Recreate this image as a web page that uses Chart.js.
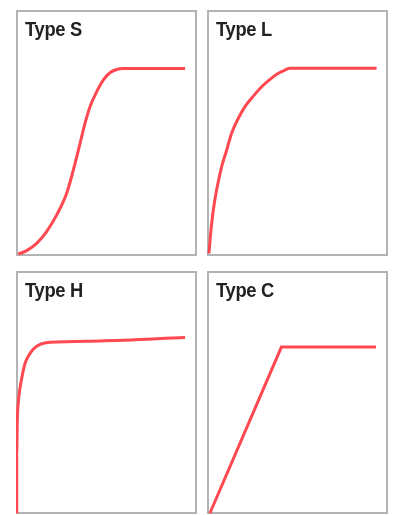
<!DOCTYPE html>
<html>
<head>
<meta charset="utf-8">
<script src="https://cdn.jsdelivr.net/npm/chart.js@4.4.0/dist/chart.umd.min.js"></script>
<style>
    html, body { margin: 0; padding: 0; background: #fff; }
    body { width: 395px; height: 515px; position: relative; overflow: hidden; }
    .cell { position: absolute; }
    .frame { position: absolute; inset: 0; border: 2px solid #b3b3b3; box-sizing: border-box; }
    .plot { position: absolute; inset: 0; }
    .label {
        position: absolute; left: 9px; top: 8px;
        font: bold 21px/21px "Liberation Sans Narrow", "Liberation Sans", sans-serif;
        color: #222; letter-spacing: -0.4px;
        transform: scaleX(0.875); transform-origin: left top;
        white-space: nowrap;
    }
</style>
</head>
<body>

<div class="cell" style="left:16px;top:10px;width:181px;height:246px">
    <div class="frame"></div>
    <div class="plot"><canvas id="chartS"></canvas></div>
    <div class="label">Type S</div>
</div>
<div class="cell" style="left:207px;top:10px;width:181px;height:246px">
    <div class="frame"></div>
    <div class="plot"><canvas id="chartL"></canvas></div>
    <div class="label">Type L</div>
</div>
<div class="cell" style="left:16px;top:271px;width:181px;height:243px">
    <div class="frame"></div>
    <div class="plot"><canvas id="chartH"></canvas></div>
    <div class="label">Type H</div>
</div>
<div class="cell" style="left:207px;top:271px;width:181px;height:243px">
    <div class="frame"></div>
    <div class="plot"><canvas id="chartC"></canvas></div>
    <div class="label">Type C</div>
</div>

<script>
// curve shapes, x and y in percent of the panel (0..100)
const typeSx = [1.3, 5.9, 11.4, 16.9, 22.5, 28.0, 31.7, 35.4, 38.1, 40.9, 44.6, 48.2, 51.9, 55.6, 59.3, 93.4];
const typeSy = [0.8, 2.2, 5.1, 9.9, 16.7, 25.5, 35.0, 45.8, 53.9, 60.7, 66.8, 71.5, 74.5, 75.8, 76.2, 76.2];

const typeLx = [1.1, 2.2, 3.5, 5.3, 8.1, 10.9, 13.6, 17.3, 21.0, 25.6, 30.2, 34.8, 39.4, 43.1, 45.9, 93.7];
const typeLy = [1.1, 10.6, 18.7, 26.8, 36.3, 43.1, 49.9, 56.0, 60.7, 65.0, 68.8, 71.8, 74.3, 75.6, 76.3, 76.3];

const typeHx = [0.4, 0.4, 0.7, 1.3, 2.2, 3.5, 5.0, 7.2, 9.6, 13.3, 18.8, 46.4, 93.4];
const typeHy = [0.3, 24.3, 38.0, 46.2, 51.7, 57.2, 62.0, 65.4, 67.9, 69.8, 70.7, 71.2, 72.6];

const typeCx = [1.6, 41.1, 93.4];
const typeCy = [0.3, 68.7, 68.7];

const lineColor = 'rgb(255, 72, 80)';

function makeChart(id, xs, ys, smooth) {
    const ctx = document.getElementById(id);
    return new Chart(ctx, {
        type: 'line',
        data: {
            datasets: [{
                data: xs.map((x, i) => ({ x: x, y: ys[i] })),
                borderColor: lineColor,
                borderWidth: 3,
                pointRadius: 0,
                fill: false,
                cubicInterpolationMode: smooth ? 'monotone' : 'default',
                tension: 0,
                clip: false
            }]
        },
        options: {
            responsive: true,
            maintainAspectRatio: false,
            animation: false,
            layout: { padding: 0 },
            plugins: {
                legend: { display: false },
                tooltip: { enabled: false }
            },
            scales: {
                x: { type: 'linear', display: false, min: 0, max: 100 },
                y: { type: 'linear', display: false, min: 0, max: 100 }
            }
        }
    });
}

makeChart('chartS', typeSx, typeSy, true);
makeChart('chartL', typeLx, typeLy, true);
makeChart('chartH', typeHx, typeHy, true);
makeChart('chartC', typeCx, typeCy, false);
</script>
</body>
</html>
